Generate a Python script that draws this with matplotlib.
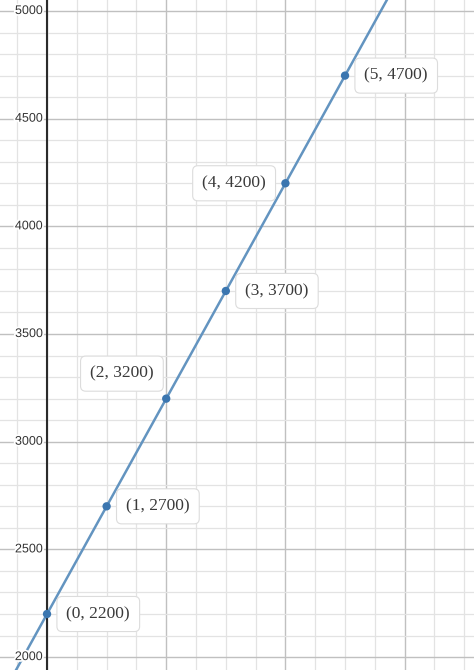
import matplotlib
matplotlib.use("Agg")
import matplotlib.pyplot as plt
import matplotlib.patheffects as pe
import numpy as np

# Data
x_vals = [0, 1, 2, 3, 4, 5]
y_vals = [2200, 2700, 3200, 3700, 4200, 4700]
point_labels = ["(0, 2200)", "(1, 2700)", "(2, 3200)", "(3, 3700)", "(4, 4200)", "(5, 4700)"]
y_tick_values = [2000, 2500, 3000, 3500, 4000, 4500, 5000]
y_tick_labels = ["2000", "2500", "3000", "3500", "4000", "4500", "5000"]

# label placement (offset in points, alignment)
label_offsets = [(14, 0, "left"), (14, 0, "left"), (-9, 18, "right"),
                 (14, 0, "left"), (-14, 0, "right"), (14, 0, "left")]

fig = plt.figure(figsize=(4.74, 6.70), dpi=100)
ax = fig.add_axes([0, 0, 1, 1])
ax.set_xlim(-0.789, 7.164)
ax.set_ylim(1940, 5051)

# grid
for gx in np.arange(-0.5, 7.5, 0.5):
    major = abs(gx / 2 - round(gx / 2)) < 1e-9
    ax.axvline(gx, color="#c0c0c0" if major else "#e3e3e3", lw=1.0 if major else 0.9, zorder=0)
for gy in range(2000, 5100, 100):
    major = gy % 500 == 0
    ax.axhline(gy, color="#c0c0c0" if major else "#e3e3e3", lw=1.0 if major else 0.9, zorder=0)
ax.axvline(0, color="#2b2b2b", lw=1.5, zorder=1)

ax.set_xticks([])
ax.set_yticks([])
for s in ax.spines.values():
    s.set_visible(False)

# y tick labels
for v, t in zip(y_tick_values, y_tick_labels):
    ax.annotate(t, (0, v), xytext=(-3, 0), textcoords="offset points",
                ha="right", va="center", fontsize=9, color="#333333",
                family="Liberation Sans", zorder=3,
                path_effects=[pe.withStroke(linewidth=2.5, foreground="white")])

# line
ax.axline((x_vals[0], y_vals[0]), (x_vals[-1], y_vals[-1]), color="#6394c0", lw=1.8, zorder=2)
ax.scatter(x_vals, y_vals, s=36, color="#3b76b0", zorder=4, edgecolors="none")

for x, y, lab, (dx, dy, ha) in zip(x_vals, y_vals, point_labels, label_offsets):
    ax.annotate(lab, (x, y), xytext=(dx, dy), textcoords="offset points",
                ha=ha, va="center", fontsize=12.5, color="#3a3a3a",
                family="Liberation Serif", zorder=5,
                bbox=dict(boxstyle="round,pad=0.55,rounding_size=0.3",
                          fc="white", ec="#dcdcdc", lw=0.8))

fig.savefig("out.png", dpi=100)
